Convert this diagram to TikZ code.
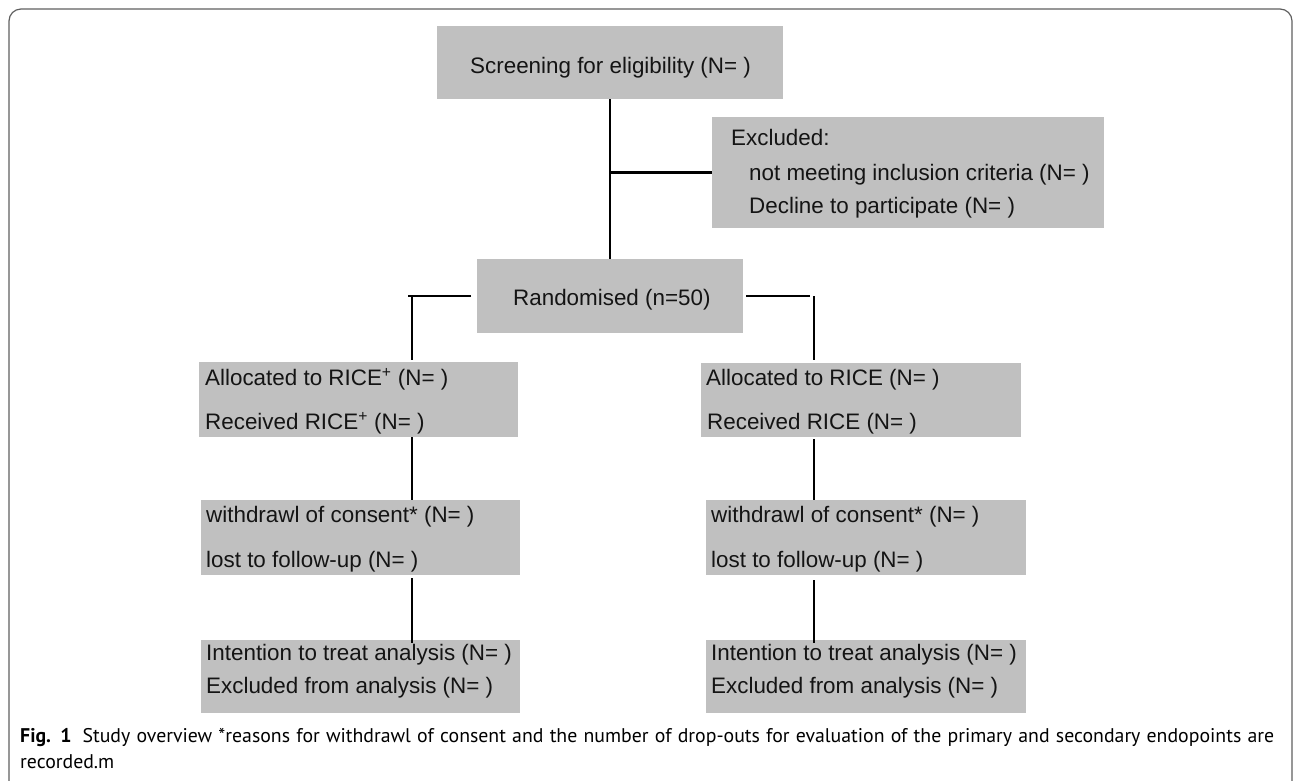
\documentclass[tikz,border=0pt]{standalone}
\usepackage{fontspec}
\setmainfont{Liberation Sans}
\newfontfamily\capfont{PT Sans}
\definecolor{boxgray}{RGB}{192,192,192}
\definecolor{txt}{RGB}{20,20,20}
\definecolor{framegray}{RGB}{95,95,95}
\begin{document}
\begin{tikzpicture}[x=1pt,y=-1pt,
  box/.style={fill=boxgray, draw=none, anchor=north west, inner sep=0pt, outer sep=0pt},
  lbl/.style={anchor=base west, inner sep=0pt, text=txt, font=\fontsize{22.4}{26}\selectfont},
  conn/.style={line width=2.8pt, black},
  captxt/.style={anchor=base west, inner sep=0pt, text=black, font=\capfont\fontsize{19.8}{24}\selectfont}]
\useasboundingbox (0,0) rectangle (1295,780);
\begin{scope}
  \clip (0,0) rectangle (1295,780);
  \draw[draw=framegray, line width=1.2pt, rounded corners=12pt] (9,830) -- (9,9) -- (1292,9) -- (1292,830);
\end{scope}
% boxes
\node[box, minimum width=346pt, minimum height=73pt] (scr) at (437,26) {};
\node[box, minimum width=392pt, minimum height=111pt] (exc) at (712,117) {};
\node[box, minimum width=266pt, minimum height=74pt] (rand) at (477,259) {};
\node[box, minimum width=319pt, minimum height=75pt] (ricep) at (199,362) {};
\node[box, minimum width=320pt, minimum height=74pt] (rice) at (701,363) {};
\node[box, minimum width=319pt, minimum height=75pt] (wdl) at (201,500) {};
\node[box, minimum width=320pt, minimum height=75pt] (wdr) at (706,500) {};
\node[box, minimum width=319pt, minimum height=73pt] (ittl) at (201,640) {};
\node[box, minimum width=320pt, minimum height=73pt] (ittr) at (706,640) {};
% texts
\node[lbl] (scrt) at (470,73) {Screening for eligibility (N= )};
\node[lbl] (exct1) at (731,145) {Excluded:};
\node[lbl] (exct2) at (749,180) {not meeting inclusion criteria (N= )};
\node[lbl] (exct3) at (749,213) {Decline to participate (N= )};
\node[lbl] (randt) at (513,305) {Randomised (n=50)};
\node[lbl] (ricept1) at (205,385) {Allocated to RICE\textsuperscript{+} (N= )};
\node[lbl] (ricept2) at (205,429) {Received RICE\textsuperscript{+} (N= )};
\node[lbl] (ricet1) at (706,385) {Allocated to RICE (N= )};
\node[lbl] (ricet2) at (707,429) {Received RICE (N= )};
\node[lbl] (wdlt1) at (206,522) {withdrawl of consent* (N= )};
\node[lbl] (wdlt2) at (206,567) {lost to follow-up (N= )};
\node[lbl] (wdrt1) at (711,522) {withdrawl of consent* (N= )};
\node[lbl] (wdrt2) at (711,567) {lost to follow-up (N= )};
\node[lbl] (ittlt1) at (206,660) {Intention to treat analysis (N= )};
\node[lbl] (ittlt2) at (206,693) {Excluded from analysis (N= )};
\node[lbl] (ittrt1) at (711,660) {Intention to treat analysis (N= )};
\node[lbl] (ittrt2) at (711,693) {Excluded from analysis (N= )};
% connectors
\coordinate (lcorner) at (412,296);
\coordinate (rcorner) at (814,296);
\draw[conn] (scr.south) -- (rand.north);
\draw[conn] (scr.south |- exc.west) -- (exc.west);
\draw[conn] ([xshift=-6pt]rand.west) -- ([xshift=-4pt]lcorner);
\draw[conn, shorten >=2pt] (lcorner) -- (lcorner |- ricep.north);
\draw[conn] ([xshift=3pt]rand.east) -- ([xshift=-4pt]rcorner);
\draw[conn, shorten >=3pt] (rcorner) -- (rcorner |- rice.north);
\draw[conn] (ricep.south -| lcorner) -- (wdl.north -| lcorner);
\draw[conn, shorten >=-3pt, shorten <=3pt] (wdl.south -| lcorner) -- (ittl.north -| lcorner);
\draw[conn, shorten <=2pt] (rice.south -| rcorner) -- (wdr.north -| rcorner);
\draw[conn, shorten >=-3pt, shorten <=5pt] (wdr.south -| rcorner) -- (ittr.north -| rcorner);
% caption
\node[captxt] (cap1) at (20,742) {\makebox[1254pt][s]{\textbf{Fig. 1}\hspace{0.55em}Study overview *reasons for withdrawl of consent and the number of drop-outs for evaluation of the primary and secondary endopoints are}};
\node[captxt] (cap2) at (20,768) {recorded.m};
\end{tikzpicture}
\end{document}
